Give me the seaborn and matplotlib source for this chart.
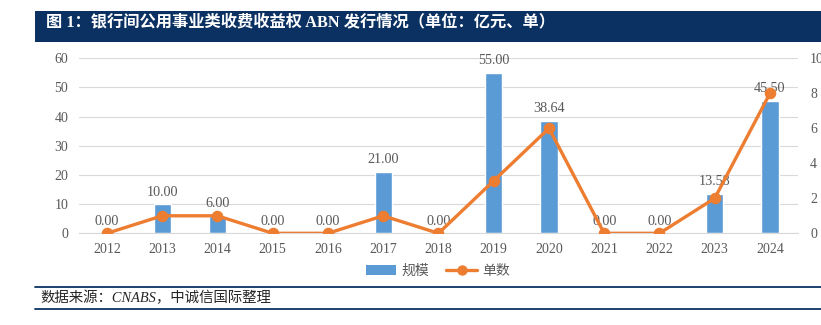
import numpy as np
import pandas as pd
import matplotlib
matplotlib.use("Agg")
import matplotlib.pyplot as plt
import seaborn as sns
from matplotlib.patches import Rectangle, Patch
from matplotlib.lines import Line2D

# ---- data ----
years = ["2012", "2013", "2014", "2015", "2016", "2017", "2018",
         "2019", "2020", "2021", "2022", "2023", "2024"]
scale_values = [0.00, 10.00, 6.00, 0.00, 0.00, 21.00, 0.00,
                55.00, 38.64, 0.00, 0.00, 13.58, 45.50]
count_values = [0, 1, 1, 0, 0, 1, 0, 3, 6, 0, 0, 2, 8]
left_ticks = [0, 10, 20, 30, 40, 50, 60]
right_ticks = [0, 2, 4, 6, 8, 10]
legend_labels = ["规模", "单数"]
title_text = "图 1：银行间公用事业类收费收益权 ABN 发行情况（单位：亿元、单）"
source_text = "数据来源：CNABS，中诚信国际整理"

# ---- style ----
BAR = "#5B9BD5"
LINE = "#ED7D31"
NAVY = "#0B3162"
GRID = "#D9D9D9"
TXT = "#595959"
W, H = 821, 325

sns.set_theme(style="white")
plt.rcParams["font.family"] = ["Liberation Serif", "Noto Sans CJK SC", "DejaVu Sans"]

df = pd.DataFrame({"year": years, "scale": scale_values, "count": count_values})

fig = plt.figure(figsize=(W / 100, H / 100), dpi=100)
left, right, top, bottom = 79.3, 797.6, 58.3, 233.3
ax = fig.add_axes([left / W, (H - bottom) / H, (right - left) / W, (bottom - top) / H])

sns.barplot(data=df, x="year", y="scale", color=BAR, saturation=1,
            width=0.31, ax=ax, zorder=2)
ax.bar_label(ax.containers[0], fmt="%.2f", padding=4, fontsize=10.2, color=TXT)

ax.set_ylim(0, 60)
ax.set_yticks(left_ticks)
ax.set_xlim(-0.5, len(years) - 0.5)
ax.yaxis.grid(True, color=GRID, lw=0.8)
ax.xaxis.grid(False)
ax.set_axisbelow(True)
for s in ["top", "left", "right"]:
    ax.spines[s].set_visible(False)
ax.spines["bottom"].set_color(GRID)
ax.spines["bottom"].set_linewidth(0.8)
ax.tick_params(axis="both", length=0, labelsize=10, labelcolor=TXT)
ax.tick_params(axis="y", pad=8)
ax.tick_params(axis="x", pad=7)
ax.set_xlabel("")
ax.set_ylabel("")

ax2 = ax.twinx()
sns.pointplot(data=df, x="year", y="count", color=LINE, errorbar=None,
              markers="o", linestyles="-", ax=ax2,
              markersize=6.5, linewidth=2.4)
ax2.set_ylim(0, 10)
ax2.set_yticks(right_ticks)
ax2.set_xlim(-0.5, len(years) - 0.5)
for s in ["top", "left", "right", "bottom"]:
    ax2.spines[s].set_visible(False)
ax2.tick_params(axis="y", length=0, labelsize=10, labelcolor=TXT, pad=9)
ax2.grid(False)
ax2.set_xlabel("")
ax2.set_ylabel("")

# legend
handles = [Patch(facecolor=BAR, edgecolor="none"),
           Line2D([], [], color=LINE, lw=2.4, marker="o", ms=6.5)]
fig.legend(handles=handles, labels=legend_labels, loc="center",
           bbox_to_anchor=(438 / W, (H - 271) / H), ncol=2, frameon=False,
           prop={"family": ["Noto Sans CJK SC"], "size": 10}, labelcolor=TXT,
           handlelength=2.2, handletextpad=0.4, columnspacing=1.2)

# title bar
fig.patches.append(Rectangle((35 / W, (H - 42) / H), 1 - 35 / W, 31 / H,
                             transform=fig.transFigure, facecolor=NAVY,
                             edgecolor="none", zorder=0))
fig.text(46 / W, (H - 22) / H, title_text, color="white", fontsize=11.7,
         fontweight="bold", va="center", ha="left",
         family=["Liberation Serif", "Noto Sans CJK SC"])

# footer
for yy in (286.7, 309):
    fig.add_artist(Line2D([35 / W, 1], [(H - yy) / H] * 2, color=NAVY,
                          lw=1.3, transform=fig.transFigure))
fig.text(40.7 / W, (H - 297.7) / H, source_text, color="#262626", fontsize=10.4,
         style="italic", va="center", ha="left",
         family=["Liberation Serif", "Noto Sans CJK SC"])

fig.savefig("out.png", dpi=100)
